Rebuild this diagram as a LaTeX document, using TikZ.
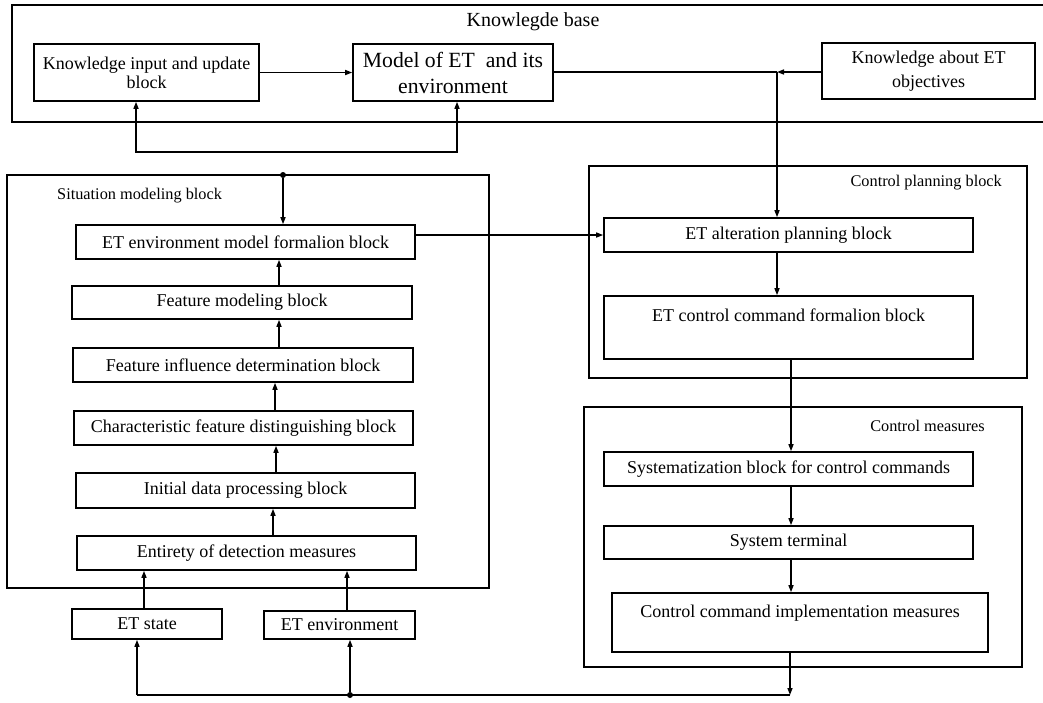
\documentclass[tikz,border=0pt]{standalone}
\usepackage{fontspec}
\setmainfont{Liberation Serif}
\usetikzlibrary{arrows.meta}
\begin{document}
\begin{tikzpicture}[x=1pt,y=-1pt,
  blk/.style={draw, line width=1.6pt, inner sep=0pt, align=center,
    font=\fontsize{18}{19}\selectfont},
  frame/.style={draw, line width=1.6pt, inner sep=0pt},
  arr/.style={line width=1.4pt, -{Triangle[length=7pt,width=5pt]}},
  wire/.style={line width=1.4pt},
  ttl/.style={inner sep=0pt, font=\fontsize{16.3}{18}\selectfont},
  txt/.style={inner sep=0pt, font=\fontsize{18}{19}\selectfont},
  dot/.style={circle, fill, inner sep=0pt, minimum size=6pt}
]
\useasboundingbox (0,0) rectangle (1043,702);

% ---------- knowledge base ----------
\draw[line width=1.6pt] (1043,5) -| (12,122) -- (1043,122);
\node[inner sep=0pt, font=\fontsize{20}{22}\selectfont] (kbtitle) at (533,22) {Knowlegde base};

\node[blk, minimum width=225pt, minimum height=57pt] (kin) at (146.5,72.5)
  {Knowledge input and update\\block};
\node[blk, minimum width=200pt, minimum height=57pt,
  font=\fontsize{21.7}{26}\selectfont] (model) at (453,72.5)
  {Model of ET\ \ and its\\environment};
\node[blk, minimum width=213pt, minimum height=56pt,
  font=\fontsize{18}{24}\selectfont] (kabout) at (928.5,71)
  {Knowledge about ET\\objectives};

\draw[arr] (kin.east) -- (model.west);
\coordinate (j1) at (777,72);
\draw[wire] (model.east |- j1) -- (j1);
\draw[arr] (kabout.west |- j1) -- (j1);

\coordinate (fbL) at (136,152);
\coordinate (fbR) at (457,152);
\draw[line width=1.4pt, {Triangle[length=7pt,width=5pt]}-{Triangle[length=7pt,width=5pt]}]
  (kin.south -| fbL) -- (fbL) -- (fbR) -- (model.south -| fbR);

% ---------- situation modeling block ----------
\node[frame, minimum width=482pt, minimum height=413pt] (sitbox) at (248,381.5) {};
\node[ttl, anchor=west] (sittitle) at (57,196) {Situation modeling block};

\node[blk, minimum width=339pt, minimum height=34pt] (envmodel) at (245.5,242)
  {ET environment model formalion block};
\node[blk, minimum width=340pt, minimum height=33pt] (featmod) at (242,302.5)
  {Feature modeling block};
\node[blk, minimum width=340pt, minimum height=34pt] (featinf) at (243,365)
  {Feature influence determination block};
\node[blk, minimum width=339pt, minimum height=34pt] (charfeat) at (243.5,428)
  {Characteristic feature distinguishing block};
\node[blk, minimum width=339pt, minimum height=35pt] (initdata) at (245.5,490.5)
  {Initial data processing block};
\node[blk, minimum width=339pt, minimum height=34pt] (entirety) at (246.5,553)
  {Entirety of detection measures};

\node[dot] (tdot) at (283,175) {};
\draw[arr] (tdot) -- (envmodel.north -| tdot);

\coordinate (ca) at (279,0);
\coordinate (cb) at (275,0);
\coordinate (cc) at (276,0);
\coordinate (cd) at (273,0);
\draw[arr] (featmod.north -| ca) -- (envmodel.south -| ca);
\draw[arr] (featinf.north -| ca) -- (featmod.south -| ca);
\draw[arr] (charfeat.north -| cb) -- (featinf.south -| cb);
\draw[arr] (initdata.north -| cc) -- (charfeat.south -| cc);
\draw[arr] (entirety.north -| cd) -- (initdata.south -| cd);

% ---------- inputs ----------
\node[blk, minimum width=150pt, minimum height=30pt] (etstate) at (147,624) {ET state};
\node[blk, minimum width=151pt, minimum height=28pt] (etenv) at (339.5,625) {ET environment};

\coordinate (sa) at (144,0);
\coordinate (sb) at (347,0);
\draw[arr] (etstate.north -| sa) -- (entirety.south -| sa);
\draw[arr] (etenv.north -| sb) -- (entirety.south -| sb);

% ---------- control planning block ----------
\node[frame, minimum width=438pt, minimum height=212pt] (planbox) at (808,272) {};
\node[ttl, anchor=east] (plantitle) at (1002,183) {Control planning block};

\node[blk, minimum width=369pt, minimum height=34pt] (altplan) at (788.5,235)
  {ET alteration planning block};
\node[blk, minimum width=369pt, minimum height=63pt] (cmdform) at (788.5,327.5) {};
\node[txt] (cmdformtxt) at (788.5,315) {ET control command formalion block};

\draw[arr] (j1) -- (altplan.north -| j1);
\draw[arr] (envmodel.east |- altplan.west) -- (altplan.west);
\draw[arr] (altplan.south -| j1) -- (cmdform.north -| j1);

% ---------- control measures ----------
\node[frame, minimum width=438pt, minimum height=260pt] (measbox) at (803,537) {};
\node[ttl, anchor=east] (meastitle) at (985,426) {Control measures};

\node[blk, minimum width=369pt, minimum height=34pt] (sysblock) at (788.5,469)
  {Systematization block for control commands};
\node[blk, minimum width=369pt, minimum height=33pt] (systerm) at (788.5,542.5)
  {System terminal};
\node[blk, minimum width=376pt, minimum height=59pt] (impl) at (800,622.5) {};
\node[txt] (impltxt) at (800,613) {Control command implementation measures};

\coordinate (cr) at (791,0);
\draw[arr] (cmdform.south -| cr) -- (sysblock.north -| cr);
\draw[arr] (sysblock.south -| cr) -- (systerm.north -| cr);
\draw[arr] (systerm.south -| cr) -- (impl.north -| cr);

% ---------- feedback to the object ----------
\coordinate (loopR) at (790,695);
\coordinate (loopL) at (137,695);
\node[dot] (bdot) at (350,695) {};
\draw[arr] (impl.south -| loopR) -- (loopR);
\draw[wire] (loopR) -- (loopL);
\draw[arr] (loopL) -- (etstate.south -| loopL);
\draw[arr] (bdot) -- (etenv.south -| bdot);
\end{tikzpicture}
\end{document}
